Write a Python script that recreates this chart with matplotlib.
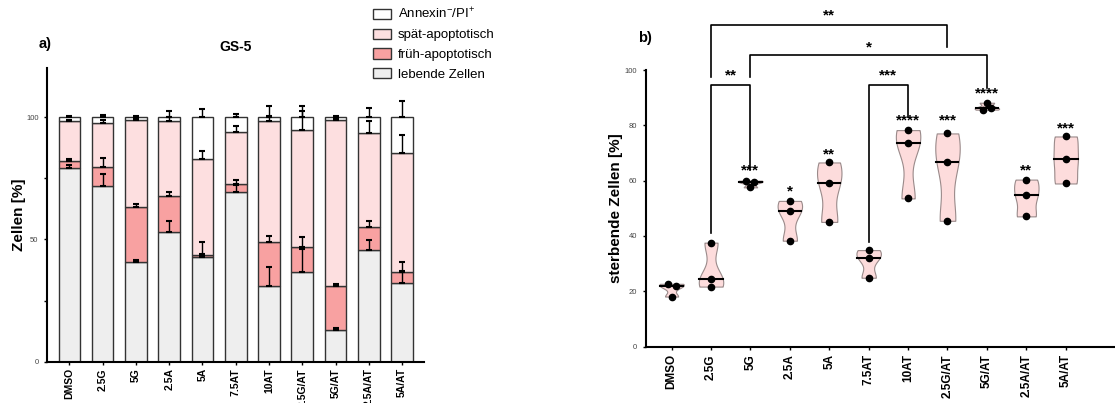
import numpy as np
import matplotlib
matplotlib.use('Agg')
import matplotlib.pyplot as plt

plt.rcParams['font.family'] = ['Liberation Sans', 'DejaVu Sans']

categories = ['DMSO', '2.5G', '5G', '2.5A', '5A', '7.5AT', '10AT',
              '2.5G/AT', '5G/AT', '2.5A/AT', '5A/AT']

# panel a: stacked percentages (mean) and upper SD
live = [79.0, 71.8, 40.7, 53.2, 42.9, 69.3, 31.1, 36.6, 12.9, 45.6, 32.1]
early = [3.2, 7.7, 22.6, 14.7, 0.9, 3.2, 18.0, 10.2, 18.0, 9.4, 4.8]
late = [16.0, 17.9, 35.3, 30.6, 38.9, 21.5, 49.4, 48.0, 67.7, 38.6, 48.5]
annexin = [1.8, 2.6, 1.4, 1.5, 17.3, 6.0, 1.5, 5.2, 1.4, 6.4, 14.6]

live_err = [1.4, 5.1, 0.8, 4.5, 1.3, 2.8, 7.8, 9.4, 0.8, 4.1, 5.2]
early_err = [0.8, 3.9, 1.2, 1.4, 5.3, 1.6, 2.3, 4.2, 1.1, 2.7, 3.9]
late_err = [0.8, 1.6, 0.9, 1.6, 3.5, 2.4, 2.0, 7.8, 0.6, 4.6, 7.3]
annexin_err = [0.5, 1.0, 0.4, 2.6, 3.3, 1.3, 4.6, 4.6, 0.4, 3.9, 6.6]

# panel b: dying cells, three replicates per condition
dying = [
    [22.7, 21.9, 18.1],
    [37.6, 24.6, 21.7],
    [60.0, 59.5, 57.6],
    [52.7, 48.9, 38.3],
    [66.6, 59.1, 45.1],
    [34.9, 32.2, 24.9],
    [78.3, 73.5, 53.6],
    [77.1, 66.6, 45.5],
    [88.2, 86.4, 85.7],
    [60.4, 54.7, 47.1],
    [76.0, 67.7, 59.0],
]
stars = ['', '', '***', '*', '**', '', '****', '***', '****', '**', '***']
star_y = [0, 0, 63.5, 56.0, 69.2, 0, 81.7, 81.7, 91.4, 63.5, 78.6]

# brackets: (left idx, right idx, top y, left foot y, right foot y, label, label y)
brackets = [
    (1, 2, 94.5, 41.0, 63.9, '**', 97.8),
    (5, 6, 94.5, 38.0, 83.2, '***', 97.8),
    (1, 7, 116.2, 97.4, 108.4, '**', 119.5),
    (2, 8, 105.4, 97.4, 93.4, '*', 108.0),
]

c_ann = '#FFFFFF'
c_late = '#FDDFE0'
c_early = '#F8A1A1'
c_live = '#EEEEEE'

fig = plt.figure(figsize=(11.15, 4.03), dpi=100)

# ---------- panel a ----------
ax1 = fig.add_axes([0.042, 0.102, 0.338, 0.729])
x = np.arange(len(categories))
w = 0.65
bar_kw = dict(width=w, edgecolor='#333333', linewidth=1.0)
b1 = ax1.bar(x, live, color=c_live, label='lebende Zellen', **bar_kw)
bot = np.array(live)
b2 = ax1.bar(x, early, bottom=bot, color=c_early, label='früh-apoptotisch', **bar_kw)
bot2 = bot + np.array(early)
b3 = ax1.bar(x, late, bottom=bot2, color=c_late, label='spät-apoptotisch', **bar_kw)
bot3 = bot2 + np.array(late)
b4 = ax1.bar(x, annexin, bottom=bot3, color=c_ann,
             label=r'Annexin$^{\mathregular{-}}$/PI$^{\mathregular{+}}$', **bar_kw)
bot4 = bot3 + np.array(annexin)

for tops, err in [(bot, live_err), (bot2, early_err), (bot3, late_err), (bot4, annexin_err)]:
    ax1.errorbar(x, tops, yerr=[np.zeros(len(err)), err], fmt='none', ecolor='black',
                 elinewidth=1.0, capsize=2.2, capthick=1.5, zorder=3)

ax1.set_xlim(-0.676, 10.65)
ax1.set_ylim(0, 120)
ax1.set_yticks([0, 25, 50, 75, 100])
ax1.set_yticklabels(['0', '', '50', '', '100'])
ax1.set_xticks(x)
ax1.set_xticklabels(categories, rotation=90, fontweight='bold', fontsize=7.5)
ax1.tick_params(axis='y', labelsize=5.5, labelcolor='#444444', length=2.5, width=1)
ax1.tick_params(axis='x', length=2.5, width=1, pad=2)
for s in ['top', 'right']:
    ax1.spines[s].set_visible(False)
for s in ['left', 'bottom']:
    ax1.spines[s].set_linewidth(1.5)
ax1.set_ylabel('Zellen [%]', fontsize=11, fontweight='bold', labelpad=0)
fig.text(0.211, 0.883, 'GS-5', fontsize=10, fontweight='bold', ha='center', va='center')
fig.text(0.035, 0.89, 'a)', fontsize=10.5, fontweight='bold', ha='left', va='center')

fig.legend([b4, b3, b2, b1],
           [b4.get_label(), b3.get_label(), b2.get_label(), b1.get_label()],
           loc='upper left', bbox_to_anchor=(0.329, 1.0), frameon=False, fontsize=9.5,
           handlelength=1.35, handleheight=0.85, labelspacing=0.52, handletextpad=0.5,
           borderaxespad=0.1)

# ---------- panel b ----------
ax2 = fig.add_axes([0.579, 0.140, 0.421, 0.686])
parts = ax2.violinplot(dying, positions=x, widths=0.62, showextrema=False,
                       showmedians=False, bw_method=0.5)
for body, vals in zip(parts['bodies'], dying):
    body.set_facecolor('#FDDCDC')
    body.set_edgecolor('#9A8A8A')
    body.set_linewidth(0.8)
    body.set_alpha(1)
    verts = body.get_paths()[0].vertices
    med = np.median(vals)
    # half-width of the violin at the median level
    n = len(verts) // 2
    ys = verts[:n, 1]
    xs = verts[:n, 0]
    order = np.argsort(ys)
    left = np.interp(med, ys[order], xs[order])
    xr = verts[:, 0]
    cen = (xr.max() + xr.min()) / 2
    hw = abs(cen - left)
    ax2.plot([cen - hw, cen + hw], [med, med], color='black', lw=1.5, zorder=3)

jitter = [[-0.1, 0.1, 0], [0, 0, 0], [-0.1, 0.1, 0], [0, 0, 0], [0, 0, 0], [0, 0, 0],
          [0, 0, 0], [0, 0, 0], [0, 0.1, -0.1], [0, 0, 0], [0, 0, 0]]
for i, vals in enumerate(dying):
    ax2.plot(np.array(jitter[i]) + i, vals, 'o', color='black', ms=4.5, zorder=4)

for i, s in enumerate(stars):
    if s:
        ax2.text(i, star_y[i] - 1.3, s, ha='center', va='baseline', fontsize=11,
                 fontweight='bold')

for l, r, top, fl, fr, lab, ly in brackets:
    ax2.plot([l, l, r, r], [fl, top, top, fr], color='black', lw=1.2, clip_on=False)
    ax2.text((l + r) / 2, ly - 1.3, lab, ha='center', va='baseline', fontsize=11,
             fontweight='bold', clip_on=False)

ax2.set_xlim(-0.66, 11.25)
ax2.set_ylim(0, 100)
ax2.set_yticks([0, 20, 40, 60, 80, 100])
ax2.set_xticks(x)
ax2.set_xticklabels(categories, rotation=90, fontweight='bold', fontsize=8.5)
ax2.tick_params(axis='y', labelsize=5.5, labelcolor='#444444', length=2.5, width=1)
ax2.tick_params(axis='x', length=2.5, width=1, pad=3)
for s in ['top', 'right']:
    ax2.spines[s].set_visible(False)
for s in ['left', 'bottom']:
    ax2.spines[s].set_linewidth(1.5)
ax2.set_ylabel('sterbende Zellen [%]', fontsize=11, fontweight='bold', labelpad=1)
fig.text(0.572, 0.905, 'b)', fontsize=10.5, fontweight='bold', ha='left', va='center')

fig.savefig('out.png', dpi=100)
